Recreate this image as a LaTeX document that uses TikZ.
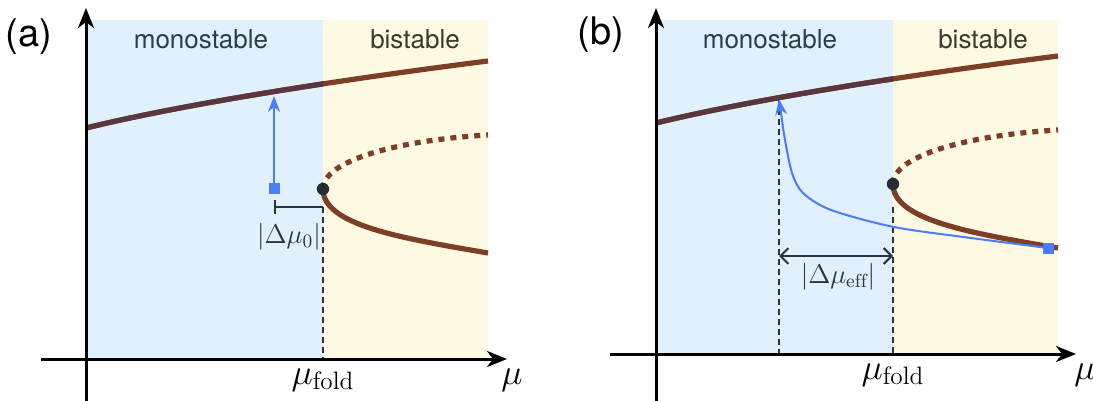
\RequirePackage{fix-cm}
\documentclass[tikz,border=0pt]{standalone}
\usepackage{fontspec}
\setsansfont{TeX Gyre Heros}
\usetikzlibrary{arrows.meta}
\definecolor{monoblue}{RGB}{224,240,253}
\definecolor{bistyellow}{RGB}{254,249,227}
\definecolor{branchbrown}{RGB}{124,62,38}
\definecolor{branchdark}{RGB}{92,54,62}
\definecolor{kickblue}{RGB}{76,124,247}
\definecolor{slate}{RGB}{40,52,64}
\definecolor{monotext}{RGB}{45,60,76}
\definecolor{bitext}{RGB}{58,58,44}
\definecolor{foldgray}{RGB}{38,44,48}
\tikzset{
  axis/.style={line width=1.5pt,-{Stealth[length=10pt,width=8pt,inset=3pt]}},
  stable/.style={line width=2.6pt},
  unstable/.style={line width=2.6pt,dash pattern=on 3pt off 3pt},
  guide/.style={slate,line width=0.95pt,dash pattern=on 3pt off 2pt},
  foldpt/.style={circle,fill=foldgray,inner sep=0pt,minimum size=6.2pt},
  kickpt/.style={rectangle,fill=kickblue,inner sep=0pt,minimum size=5.5pt},
  region/.style={font=\sffamily\fontsize{13}{15}\selectfont},
  panel/.style={font=\sffamily\fontsize{19}{22}\selectfont},
  bigmath/.style={font=\fontsize{18}{20}\selectfont},
  gap/.style={slate,font=\fontsize{13.5}{15}\selectfont},
}
\begin{document}
\begin{tikzpicture}[x=0.5pt,y=-0.5pt]
	\useasboundingbox (0,0) rectangle (1093,401);
	% panel (a)
	\fill[monoblue] (86,20) rectangle (323,359);
	\fill[bistyellow] (323,20) rectangle (488,359);
	\node[region,text=monotext] (monoa) at (201,39) {monostable};
	\node[region,text=bitext] (bia) at (415,39) {bistable};
	\node[panel] (laba) at (29,37) {(a)};
	\coordinate (fa) at (323,189);
	\draw[stable,branchbrown] (86,128) .. controls (180,105) and (330,81) .. (488,61);
	\begin{scope}
		\clip (86,0) rectangle (323,401);
		\draw[stable,branchdark] (86,128) .. controls (180,105) and (330,81) .. (488,61);
	\end{scope}
	\draw[unstable,branchbrown] (fa) .. controls (323,160) and (400,140) .. (488,135);
	\draw[stable,branchbrown] (fa) .. controls (323,225) and (400,238) .. (488,253);
	\coordinate (bara) at (274,207);
	\coordinate (barb) at (323,207);
	\coordinate (basea) at (323,359);
	\draw[guide] (barb) -- (basea);
	\draw[axis] (86,401) -- (86,8);
	\draw[axis] (41,359) -- (507,359);
	\node[kickpt] (sqa) at (274,189) {};
	\coordinate (hita) at (274,96);
	\draw[kickblue,line width=1.1pt,-{Stealth[length=8pt,width=6pt]}] (sqa) -- (hita);
	\draw[slate,line width=1pt,{Bar[width=7pt]}-] (bara) -- (barb);
	\node[gap] (dmua) at (289,237) {$|\Delta\mu_0|$};
	\node[foldpt] (folda) at (fa) {};
	\node[bigmath] (mufa) at (323,380) {$\mu_{\mathrm{fold}}$};
	\node[bigmath] (mua) at (512,380) {$\mu$};
	% panel (b)
	\begin{scope}[shift={(570,-5)}]
		\fill[monoblue] (86,25) rectangle (323,359);
		\fill[bistyellow] (323,25) rectangle (488,359);
		\node[region,text=monotext] (monob) at (200,44) {monostable};
		\node[region,text=bitext] (bib) at (413,44) {bistable};
		\node[panel] (labb) at (31,40) {(b)};
		\coordinate (fb) at (323,189);
		\draw[stable,branchbrown] (86,128) .. controls (180,105) and (330,81) .. (488,61);
		\begin{scope}
			\clip (86,0) rectangle (323,406);
			\draw[stable,branchdark] (86,128) .. controls (180,105) and (330,81) .. (488,61);
		\end{scope}
		\draw[unstable,branchbrown] (fb) .. controls (323,160) and (400,140) .. (488,135);
		\draw[stable,branchbrown] (fb) .. controls (323,225) and (400,238) .. (488,253);
		\coordinate (hitb) at (209,104);
		\coordinate (baseb1) at (209,359);
		\coordinate (topb2) at (323,212);
		\coordinate (baseb2) at (323,359);
		\draw[guide] (hitb) -- (baseb1);
		\draw[guide] (topb2) -- (baseb2);
		\draw[axis] (86,406) -- (86,13);
		\draw[axis] (40,359) -- (506,359);
		\node[kickpt] (sqb) at (478,253) {};
		\draw[kickblue,line width=1pt,-{Stealth[length=8pt,width=6pt]}] plot[smooth] coordinates {(478,253) (401,243) (324,232) (261,215) (233,198) (222,178) (215,145) (211,118) (209,104)};
		\coordinate (gapl) at (209,261);
		\coordinate (gapr) at (323,261);
		\draw[slate,line width=1pt,{Straight Barb[length=4pt,width=8pt]}-{Straight Barb[length=4pt,width=8pt]}] (gapl) -- (gapr);
		\node[gap] (dmub) at (268,282) {$|\Delta\mu_{\mathrm{eff}}|$};
		\node[foldpt] (foldb) at (fb) {};
		\node[bigmath] (mufb) at (323,380) {$\mu_{\mathrm{fold}}$};
		\node[bigmath] (mub) at (515,380) {$\mu$};
	\end{scope}
\end{tikzpicture}
\end{document}
